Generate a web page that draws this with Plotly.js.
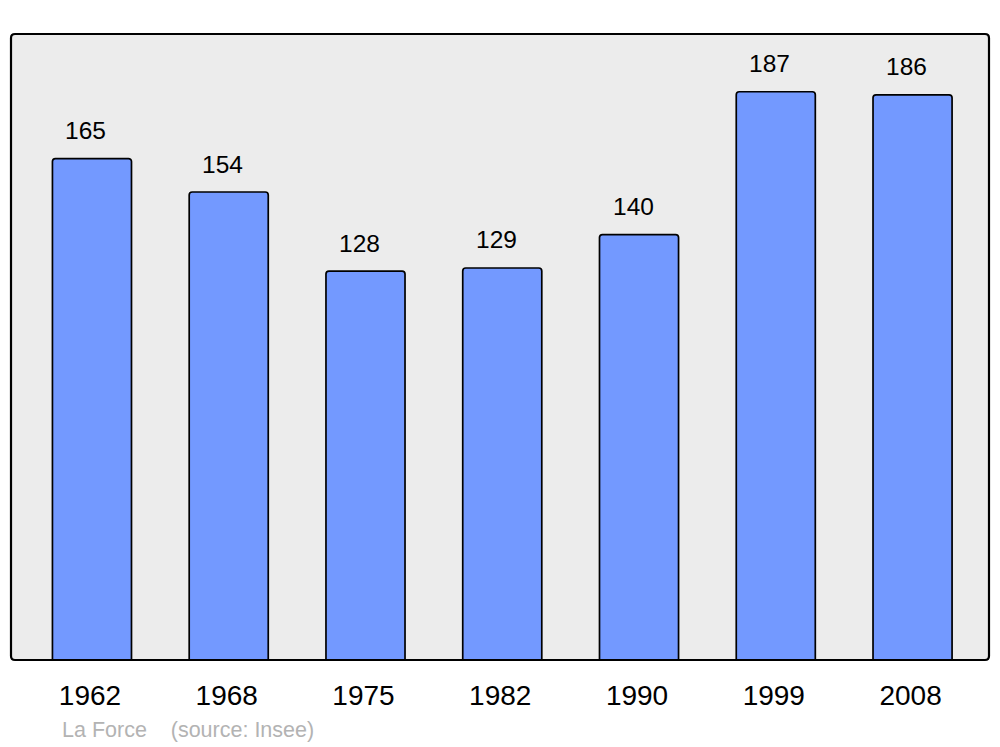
<!DOCTYPE html>
<html><head><meta charset="utf-8">
<script src="https://cdn.plot.ly/plotly-3.0.1.min.js"></script>
<style>html,body{margin:0;padding:0;background:#fff}#chart{width:1000px;height:747px}</style>
</head><body><div id="chart"></div>
<script>
const years = ["1962","1968","1975","1982","1990","1999","2008"];
const population = [165,154,128,129,140,187,186];
const footerText = "La Force&nbsp;&nbsp;&nbsp;&nbsp;(source: Insee)";

const font = "Liberation Sans, Arial, sans-serif";
const trace = {
  type: "bar", x: years, y: population, width: 0.578,
  marker: {color: "#7399ff", line: {color: "#000", width: 1.7}, cornerradius: 3},
  hoverinfo: "skip"
};
const ann = years.map((yr, i) => ({
  x: i, y: population[i], xref: "x", yref: "y", text: String(population[i]),
  showarrow: false, yanchor: "middle", yshift: 28, xshift: -6,
  font: {family: font, size: 24.5, color: "#000"}
}));
ann.push({xref: "paper", yref: "paper", x: 49/978, y: -70/626, xanchor: "left", yanchor: "middle",
  text: footerText, showarrow: false, font: {family: font, size: 21.5, color: "#b3b3b3"}});
const r = 4, W = 978, H = 626;
const rx = r / W, ry = r / H;
const path = `M ${rx} 0 L ${1-rx} 0 Q 1 0 1 ${ry} L 1 ${1-ry} Q 1 1 ${1-rx} 1 L ${rx} 1 Q 0 1 0 ${1-ry} L 0 ${ry} Q 0 0 ${rx} 0 Z`;
const layout = {
  width: 1000, height: 747,
  margin: {l: 11, r: 11, t: 34, b: 87},
  paper_bgcolor: "#fff", plot_bgcolor: "#ececec",
  showlegend: false,
  xaxis: {type: "category", range: [-0.592, 6.559], showgrid: false, zeroline: false, showline: false,
    ticks: "", ticklabelstandoff: 16, ticklabelshift: -2, tickfont: {family: font, size: 28, color: "#000"}},
  yaxis: {range: [0, 206], showgrid: false, zeroline: false, showline: false, showticklabels: false, ticks: ""},
  annotations: ann,
  shapes: [{type: "path", xref: "paper", yref: "paper", path: path, line: {color: "#000", width: 2.2}, layer: "above"}]
};
Plotly.newPlot("chart", [trace], layout, {staticPlot: true, displayModeBar: false});
</script></body></html>
